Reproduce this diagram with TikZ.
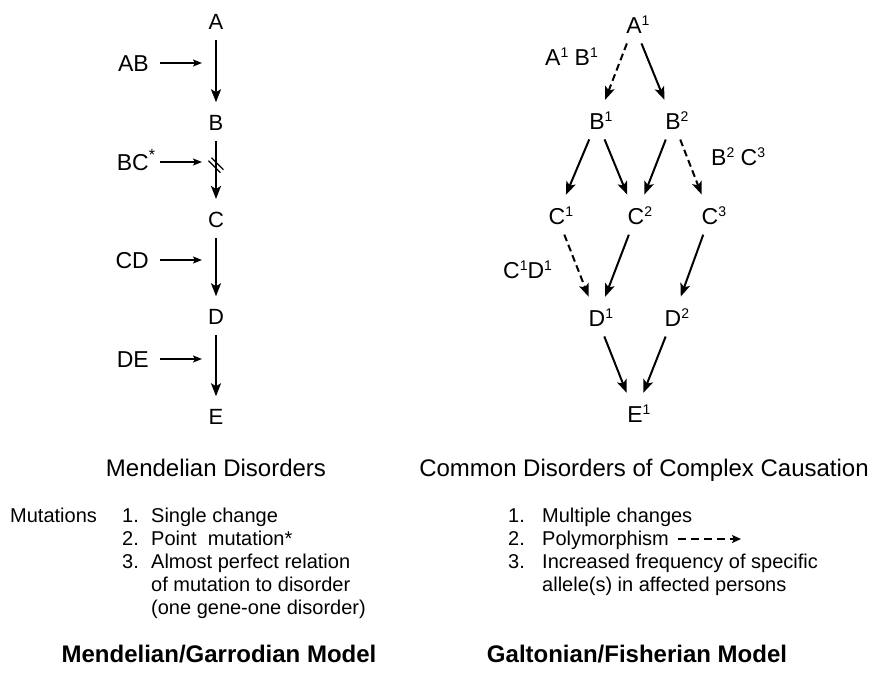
\documentclass[tikz,border=0pt]{standalone}
\usepackage{fontspec}
\setmainfont{Liberation Sans}
\usetikzlibrary{arrows.meta}

\newcommand\gsup[1]{\raisebox{8pt}{\fontsize{14}{14}\selectfont #1}}

\tikzset{
  gene/.style={inner sep=2pt, font=\fontsize{22}{26}\selectfont},
  allele/.style={gene, font=\fontsize{23}{26}\selectfont},
  tag/.style={inner sep=0pt, font=\fontsize{23}{26}\selectfont},
  cause/.style={line width=2pt, -{Stealth[length=13pt,width=10pt,inset=3pt]}, shorten <=8pt, shorten >=11pt},
  poly/.style={cause, dash pattern=on 7pt off 4pt},
  side/.style={line width=1.6pt, -{Stealth[length=9pt,width=7pt,inset=2pt]}, shorten <=11pt},
  head/.style={font=\fontsize{24}{28}\selectfont, inner sep=0pt, anchor=base},
  list/.style={font=\fontsize{20}{23}\selectfont, inner sep=0pt, anchor=base west},
}

\begin{document}
\begin{tikzpicture}[x=1pt,y=-1pt]
  \useasboundingbox (0,0) rectangle (877,675);
  % Mendelian chain
  \foreach \n/\y in {A/22,B/123,C/220,D/317,E/417}
    \node[gene] (\n) at (216,\y) {\n};
  \foreach \a/\b in {A/B,B/C,C/D,D/E}
    \draw[cause] (\a) -- (\b);
  \path (B) -- (C) coordinate[pos=0.42] (cut);
  \draw[line width=1.2pt] ([shift={(-7.5,-4.5)}]cut) -- ([shift={(4.5,7.5)}]cut);
  \draw[line width=1.2pt] ([shift={(-4.5,-7.5)}]cut) -- ([shift={(7.5,4.5)}]cut);
  \foreach \t/\y [count=\i] in {AB/63,{BC\rlap{\textsuperscript{*}}}/162,CD/260,DE/359}{
    \node[tag, anchor=east, text height=16pt, text depth=0pt] (in\i) at (149,\y) {\t};
    \coordinate (to\i) at (202,\y);
    \draw[side] (in\i) -- (to\i);
  }
  % Galtonian graph
  \foreach \n/\s/\x/\y in {A/1/634/25, B/1/597/121, B/2/673/121, C/1/557/216, C/2/636/216,
      C/3/710/216, D/1/597/318, D/2/673/318, E/1/635/414}
    \node[allele] (\n\s) at (\x,\y) {\n\rlap{\gsup{\s}}};
  \foreach \a/\b in {A1/B2, B1/C1, B1/C2, B2/C2, C2/D1, C3/D2, D1/E1, D2/E1}
    \draw[cause] (\a) -- (\b);
  \foreach \a/\b in {A1/B1, B2/C3, C1/D1}
    \draw[poly] (\a) -- (\b);
  \node[tag, anchor=base west] (lAB) at (545,65) {A\gsup{1} B\gsup{1}};
  \node[tag, anchor=base west] (lBC) at (711,165) {B\gsup{2} C\gsup{3}};
  \node[tag, anchor=base west] (lCD) at (503,278) {C\gsup{1}D\gsup{1}};
  % captions
  \node[head] (mendel) at (216,476) {Mendelian Disorders};
  \node[head] (complex) at (644,476) {Common Disorders of Complex Causation};
  \node[head, font=\fontsize{24}{28}\selectfont\bfseries] (mgmodel) at (219,662) {Mendelian/Garrodian Model};
  \node[head, font=\fontsize{24}{28}\selectfont\bfseries] (gfmodel) at (637,662) {Galtonian/Fisherian Model};
  % lists
  \node[list] (mlist) at (10,522) {\begin{tabular}[t]{@{}p{112pt}@{}p{29pt}@{}l@{}}
    Mutations & 1. & Single change\\
    & 2. & Point~ mutation*\\
    & 3. & Almost perfect relation\\
    & & of mutation to disorder\\
    & & (one gene-one disorder)
  \end{tabular}};
  \node[list] (glist) at (508,522) {\begin{tabular}[t]{@{}p{34pt}@{}l@{}}
    1. & Multiple changes\\
    2. & Polymorphism\\
    3. & Increased frequency of specific\\
    & allele(s) in affected persons
  \end{tabular}};
  \coordinate (polyS) at (678,539);
  \coordinate (polyE) at (741,539);
  \draw[line width=2pt, dash pattern=on 8pt off 5pt, -{Stealth[length=9pt,width=8pt,inset=2pt]}] (polyS) -- (polyE);
\end{tikzpicture}
\end{document}
